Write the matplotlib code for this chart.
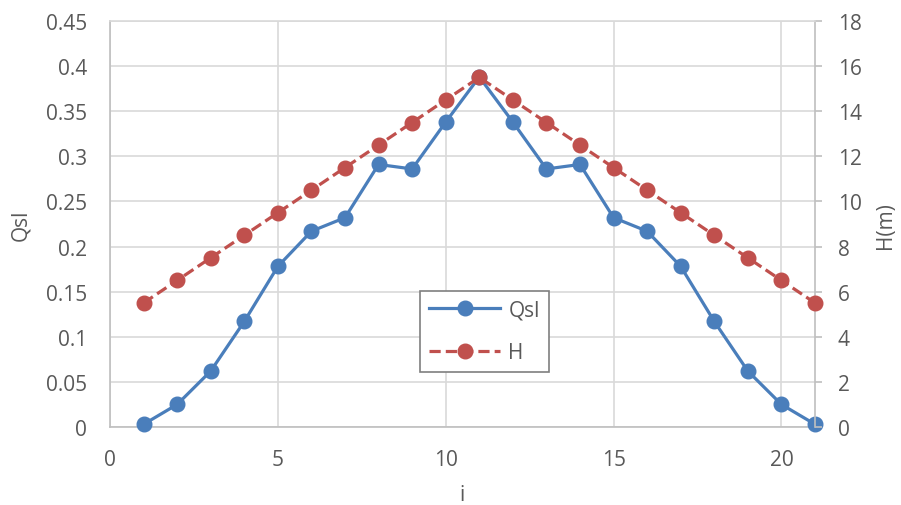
import matplotlib
matplotlib.use("Agg")
import matplotlib.pyplot as plt
from matplotlib.ticker import MultipleLocator

i_vals = list(range(1, 22))
qsl = [0.003, 0.025, 0.062, 0.117, 0.178, 0.217, 0.232, 0.291, 0.286, 0.338, 0.388,
       0.338, 0.286, 0.291, 0.232, 0.217, 0.178, 0.117, 0.062, 0.025, 0.003]
h = [5.5, 6.5, 7.5, 8.5, 9.5, 10.5, 11.5, 12.5, 13.5, 14.5, 15.5,
     14.5, 13.5, 12.5, 11.5, 10.5, 9.5, 8.5, 7.5, 6.5, 5.5]

blue = "#4A7EBB"
red = "#C0504D"
txt = "#595959"
grid = "#D9D9D9"
spine = "#BFBFBF"

plt.rcParams['font.family'] = ['Open Sans', 'DejaVu Sans']

W, H = 901, 506
fig = plt.figure(figsize=(W/100, H/100), dpi=100)
ax = fig.add_axes([110/W, 1-428/H, (815-110)/W, (428-22)/H])
ax2 = ax.twinx()

ax.set_xlim(0, 21)
ax.set_ylim(0, 0.45)
ax2.set_ylim(0, 18)
ax.xaxis.set_major_locator(MultipleLocator(5))
ax.yaxis.set_major_locator(MultipleLocator(0.05))
ax2.yaxis.set_major_locator(MultipleLocator(2))

def fmt(v, pos):
    return ("%.2f" % v).rstrip('0').rstrip('.')
ax.yaxis.set_major_formatter(plt.FuncFormatter(fmt))

ax.grid(True, color=grid, linewidth=1.2)
ax.set_axisbelow(True)
for a in (ax, ax2):
    for s in a.spines.values():
        s.set_visible(False)
ax.spines['left'].set_visible(True)
ax.spines['left'].set_color(spine)
ax.spines['left'].set_linewidth(1.2)
ax.spines['bottom'].set_visible(True)
ax.spines['bottom'].set_color(spine)
ax.spines['bottom'].set_linewidth(1.2)
ax2.spines['right'].set_visible(True)
ax2.spines['right'].set_color(spine)
ax2.spines['right'].set_linewidth(1.2)
ax2.spines['top'].set_visible(True)
ax2.spines['top'].set_color(grid)
ax2.spines['top'].set_linewidth(1.2)

fs = 15
ax.tick_params(axis='y', length=0, labelsize=fs, labelcolor=txt, pad=16.5)
ax.tick_params(axis='x', length=0, labelsize=fs, labelcolor=txt, pad=16)
ax2.tick_params(axis='y', length=5, width=1.2, color=spine, labelsize=fs, labelcolor=txt, pad=11.5)

l1, = ax.plot(i_vals, qsl, color=blue, linewidth=2.3, marker='o', markersize=10.5, label='Qsl', zorder=3)
l2, = ax2.plot(i_vals, h, color=red, linewidth=2.3, marker='o', markersize=10.5, dashes=(3.5, 1.6), label='H', zorder=3)
for a in (ax, ax2):
    for l in a.lines:
        l.set_clip_on(False)

fig.text(21/W, 1-225/H, 'Qsl', rotation=90, ha='center', va='center', fontsize=15, color=txt)
fig.text(886/W, 1-226/H, 'H(m)', rotation=90, ha='center', va='center', fontsize=15, color=txt)
fig.text(462/W, 1-496/H, 'i', ha='center', va='center', fontsize=15, color=txt)

leg = ax2.legend(handles=[l1, l2], loc='center',
                 bbox_to_anchor=((418+551)/2/W, 1-(287+378)/2/H),
                 bbox_transform=fig.transFigure, fontsize=15, handlelength=3.4, handletextpad=0.4,
                 labelspacing=1.05, borderpad=0.42, borderaxespad=0, fancybox=False, framealpha=1,
                 edgecolor='#7F7F7F', labelcolor=txt)
leg.get_frame().set_linewidth(1.2)

fig.savefig('out.png', dpi=100)
